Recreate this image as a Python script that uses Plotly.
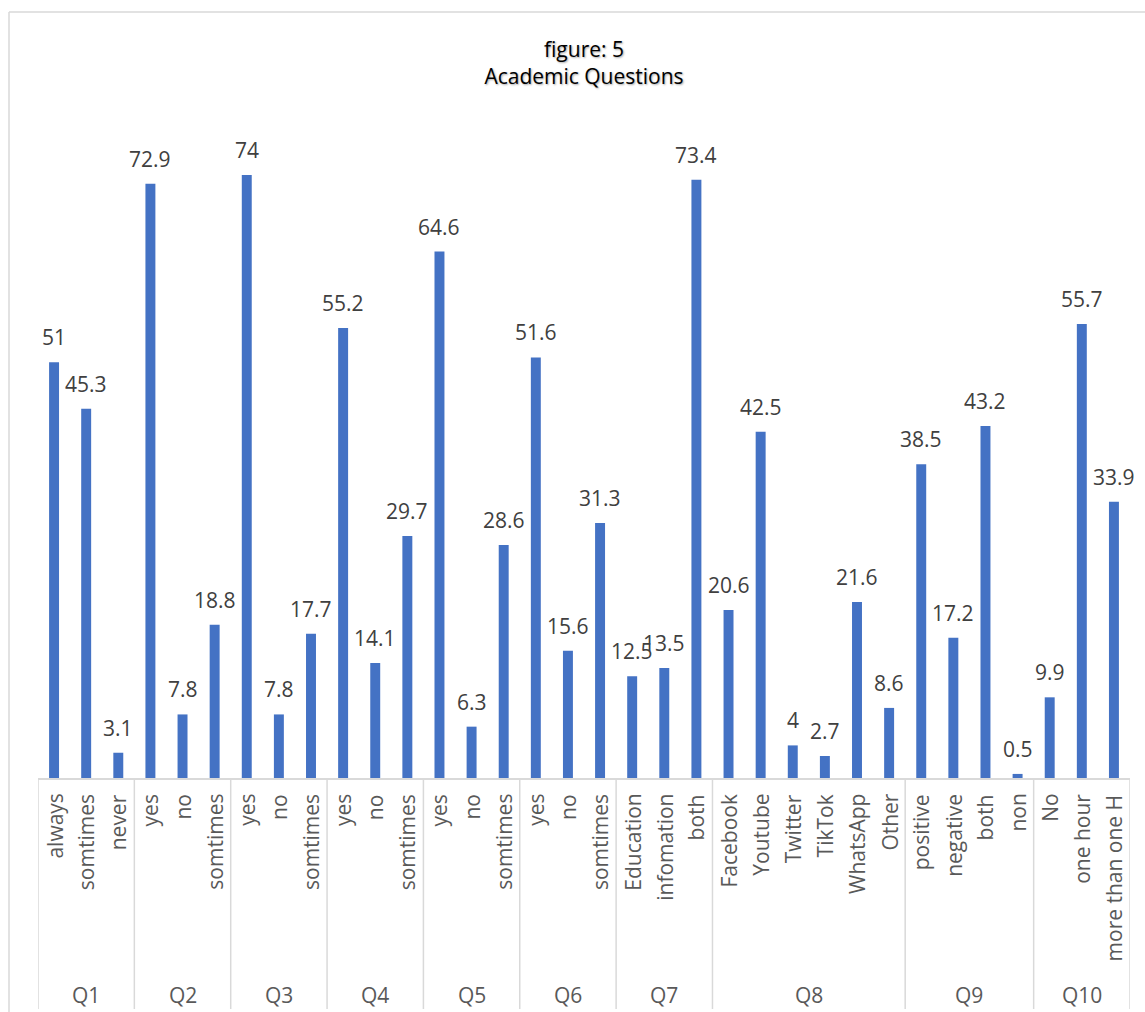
import plotly.graph_objects as go

# Survey answers (percent) grouped by question
questions = ["Q1", "Q2", "Q3", "Q4", "Q5", "Q6", "Q7", "Q8", "Q9", "Q10"]
answers = [
    ["always", "somtimes", "never"],
    ["yes", "no", "somtimes"],
    ["yes", "no", "somtimes"],
    ["yes", "no", "somtimes"],
    ["yes", "no", "somtimes"],
    ["yes", "no", "somtimes"],
    ["Education", "infomation", "both"],
    ["Facebook", "Youtube", "Twitter", "TikTok", "WhatsApp", "Other"],
    ["positive", "negative", "both", "non"],
    ["No", "one hour", "more than one H"],
]
percentages = [
    [51, 45.3, 3.1],
    [72.9, 7.8, 18.8],
    [74, 7.8, 17.7],
    [55.2, 14.1, 29.7],
    [64.6, 6.3, 28.6],
    [51.6, 15.6, 31.3],
    [12.5, 13.5, 73.4],
    [20.6, 42.5, 4, 2.7, 21.6, 8.6],
    [38.5, 17.2, 43.2, 0.5],
    [9.9, 55.7, 33.9],
]

BAR = "#4472C4"
LABEL = "#404040"
TICK = "#595959"
GRID = "#D9D9D9"
FONT = "Open Sans"

W, H = 1145, 1012
ML, MR, MT, MB = 38, 15, 126, 234
PLOT_H = H - MT - MB

xs, ys, names = [], [], []
group_spans = []
pos = 0
for q, labels, vals in zip(questions, answers, percentages):
    start = pos
    for lab, v in zip(labels, vals):
        xs.append(pos)
        ys.append(v)
        names.append(lab)
        pos += 1
    group_spans.append((start, pos - 1))
n = pos

fig = go.Figure(
    go.Bar(
        x=xs,
        y=ys,
        marker=dict(color=BAR, line=dict(width=0)),
        width=0.31,
        hoverinfo="x+y",
    )
)

annotations = []
# value labels above bars
for x, v in zip(xs, ys):
    annotations.append(dict(
        x=x, y=v, xref="x", yref="y", text=f"{v:g}", showarrow=False,
        yanchor="bottom", xanchor="center", yshift=9,
        font=dict(family=FONT, size=21, color=LABEL),
    ))
# answer labels, rotated
for x, lab in zip(xs, names):
    annotations.append(dict(
        x=x, y=0, xref="x", yref="paper", text=lab, showarrow=False,
        textangle=-90, yanchor="top", xanchor="center", yshift=-14,
        font=dict(family=FONT, size=21, color=TICK),
    ))
# question labels
for q, (a, b) in zip(questions, group_spans):
    annotations.append(dict(
        x=(a + b) / 2, y=0, xref="x", yref="paper", text=q, showarrow=False,
        yanchor="middle", xanchor="center", yshift=-217,
        font=dict(family=FONT, size=21, color=TICK),
    ))

shapes = []
bottom = -(H - 3 - (H - MB)) / PLOT_H
for a, b in group_spans:
    shapes.append(dict(type="line", xref="x", yref="paper", x0=a - 0.5, x1=a - 0.5,
                       y0=0, y1=bottom, line=dict(color=GRID, width=1.5)))
shapes.append(dict(type="line", xref="x", yref="paper", x0=n - 0.5, x1=n - 0.5,
                   y0=0, y1=bottom, line=dict(color=GRID, width=1.5)))
# outer chart frame (left and top edges)
fx0 = (9 - ML) / (W - ML - MR)
fy1 = (H - MB - 12) / PLOT_H
fx1 = (W + 5 - ML) / (W - ML - MR)
fy0 = -(MB + 5) / PLOT_H
shapes.append(dict(type="line", xref="paper", yref="paper", x0=fx0, x1=fx0,
                   y0=fy0, y1=fy1, line=dict(color=GRID, width=1.5)))
shapes.append(dict(type="line", xref="paper", yref="paper", x0=fx0, x1=fx1,
                   y0=fy1, y1=fy1, line=dict(color=GRID, width=1.5)))

fig.update_layout(
    width=W, height=H,
    margin=dict(l=ML, r=MR, t=MT, b=MB),
    paper_bgcolor="white", plot_bgcolor="white",
    showlegend=False,
    title=dict(
        text="figure: 5<br>Academic Questions",
        x=0.5, xref="paper", xanchor="center",
        y=(H - 57) / H, yref="container", yanchor="middle",
        font=dict(family=FONT, size=21, color="#000000",
                  shadow="1px 1px 2px rgba(0,0,0,0.35)"),
    ),
    xaxis=dict(
        range=[-0.5, n - 0.5], showticklabels=False, showgrid=False,
        zeroline=False, showline=True, linecolor=GRID, linewidth=1.5, ticks="",
        fixedrange=True,
    ),
    yaxis=dict(
        range=[0, 80], visible=False, showgrid=False, zeroline=False,
        fixedrange=True,
    ),
    annotations=annotations,
    shapes=shapes,
)

fig.write_html("out.html")
